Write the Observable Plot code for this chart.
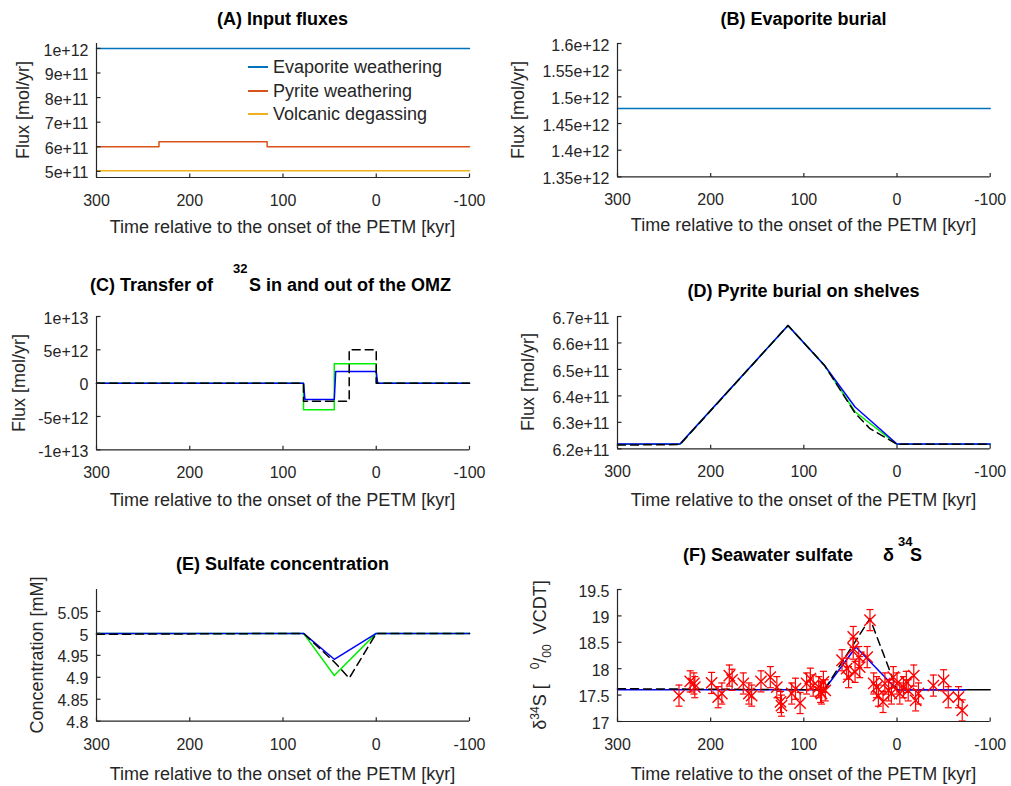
<!DOCTYPE html>
<html><head><meta charset="utf-8">
<script src="https://cdn.jsdelivr.net/npm/d3@7"></script>
<script src="https://cdn.jsdelivr.net/npm/@observablehq/plot@0.6"></script>
<style>
body{margin:0;background:#fff;}
#fig{position:relative;width:1011px;height:786px;overflow:hidden;font-family:"Liberation Sans",Arial,sans-serif;color:#262626;background:#fff;}
.abs{position:absolute;white-space:nowrap;line-height:1;}
.c{transform:translate(-50%,-50%);}
.r{transform:translate(-50%,-50%) rotate(-90deg);}
.title{font-weight:bold;font-size:18px;color:#000;}
.lab{font-size:18px;}
.sup{font-weight:bold;font-size:13px;color:#000;}
.leg{display:flex;align-items:center;font-size:18px;color:#262626;}
.sw{width:20px;height:2px;margin-right:5px;}
</style></head>
<body><div id="fig"></div>
<script>
// ---------- shared axis data ----------
const xTicks = [300, 200, 100, 0, -100];
const xTickLabels = ["300", "200", "100", "0", "-100"];

// ---------- (A) Input fluxes ----------
const seriesA = ["Evaporite weathering", "Pyrite weathering", "Volcanic degassing"];
const evapWeathT = [300, -100];
const evapWeathV = [1e12, 1e12];
const pyrWeathT = [300, 233, 233, 117, 117, -100];
const pyrWeathV = [6e11, 6e11, 6.2e11, 6.2e11, 6e11, 6e11];
const volcT = [300, -100];
const volcV = [5.02e11, 5.02e11];
const yTicksA = [5e11, 6e11, 7e11, 8e11, 9e11, 1e12];
const yLabelsA = ["5e+11", "6e+11", "7e+11", "8e+11", "9e+11", "1e+12"];

// ---------- (B) Evaporite burial ----------
const evapBurT = [300, -100];
const evapBurV = [1.478e12, 1.478e12];
const yTicksB = [1.35e12, 1.4e12, 1.45e12, 1.5e12, 1.55e12, 1.6e12];
const yLabelsB = ["1.35e+12", "1.4e+12", "1.45e+12", "1.5e+12", "1.55e+12", "1.6e+12"];

// ---------- (C) Transfer of 32S ----------
const cGreenT = [300, 78, 78, 45, 45, 0, 0, -100];
const cGreenV = [0, 0, -4e12, -4e12, 2.9e12, 2.9e12, 0, 0];
const cBlueT = [300, 78, 76.5, 45, 43.5, 0, -1.5, -100];
const cBlueV = [0, 0, -2.45e12, -2.45e12, 1.75e12, 1.75e12, 0, 0];
const cBlackT = [300, 78, 78, 29, 29, 0, 0, -100];
const cBlackV = [0, 0, -2.7e12, -2.7e12, 5e12, 5e12, 0, 0];
const yTicksC = [-1e13, -5e12, 0, 5e12, 1e13];
const yLabelsC = ["-1e+13", "-5e+12", "0", "5e+12", "1e+13"];

// ---------- (D) Pyrite burial on shelves ----------
const dGreenT = [300, 233, 117, 78, 45, 0, -100];
const dGreenV = [6.217e11, 6.217e11, 6.666e11, 6.516e11, 6.34e11, 6.217e11, 6.217e11];
const dBlueT = [300, 233, 117, 78, 45, 0, -100];
const dBlueV = [6.218e11, 6.218e11, 6.666e11, 6.516e11, 6.358e11, 6.218e11, 6.218e11];
const dBlackT = [300, 233, 117, 78, 45, 29, 0, -100];
const dBlackV = [6.214e11, 6.216e11, 6.666e11, 6.516e11, 6.335e11, 6.276e11, 6.217e11, 6.217e11];
const yTicksD = [6.2e11, 6.3e11, 6.4e11, 6.5e11, 6.6e11, 6.7e11];
const yLabelsD = ["6.2e+11", "6.3e+11", "6.4e+11", "6.5e+11", "6.6e+11", "6.7e+11"];

// ---------- (E) Sulfate concentration ----------
const eGreenT = [300, 78, 45, 0, -100];
const eGreenV = [5, 5, 4.904, 5, 5];
const eBlueT = [300, 78, 45, 0, -100];
const eBlueV = [5, 5, 4.941, 5, 5];
const eBlackT = [300, 78, 45, 29, 0, -100];
const eBlackV = [4.998, 5, 4.935, 4.898, 5, 5];
const yTicksE = [4.8, 4.85, 4.9, 4.95, 5, 5.05];
const yLabelsE = ["4.8", "4.85", "4.9", "4.95", "5", "5.05"];

// ---------- (F) Seawater sulfate d34S ----------
const fBlueT = [300, 78, 44, 0, -73];
const fBlueV = [17.6, 17.6, 18.41, 17.6, 17.6];
const fBlackT = [300, 78, 29, 0];
const fBlackV = [17.62, 17.6, 18.95, 17.6];
const fRefT = [0, -100];
const fRefV = [17.6, 17.6];
const fDataT = [234,222,218,217,199,192,188,180,177,165,159,156,146,136,129,125,124,113,109,104,97,93,90,84,82,79,77,81,59,54,52,47,47,45,41,40,29,32,25,22,20,15,13,9,6,4,0,-3,-7,-10,-12,-18,-20,-23,-39,-50,-55,-66,-70];
const fDataV = [17.49,17.76,17.72,17.65,17.73,17.46,17.53,17.87,17.79,17.72,17.53,17.49,17.76,17.84,17.65,17.37,17.30,17.53,17.62,17.35,17.72,17.81,17.68,17.65,17.56,17.75,17.59,17.53,18.16,18.0,17.84,18.6,18.38,17.94,18.22,18.03,18.92,18.22,17.72,17.65,17.49,17.37,17.72,17.59,17.53,17.84,17.72,17.53,17.65,17.75,17.59,17.87,17.40,17.53,17.68,17.78,17.46,17.46,17.21];
const fDataErr = 0.2;
const yTicksF = [17, 17.5, 18, 18.5, 19, 19.5];
const yLabelsF = ["17", "17.5", "18", "18.5", "19", "19.5"];

// ---------- helpers ----------
const fig = document.getElementById("fig");
const AX = "#262626";
const rows = (xs, ys) => xs.map((x, i) => ({x, y: ys[i]}));
const tickUp = {draw(ctx) { ctx.moveTo(0, 0); ctx.lineTo(0, -4); }};
const tickRight = {draw(ctx) { ctx.moveTo(0, 0); ctx.lineTo(4, 0); }};
const capSym = {draw(ctx) { ctx.moveTo(-3.5, 0); ctx.lineTo(3.5, 0); }};
const line = (xs, ys, stroke, extra = {}) =>
  Plot.line(rows(xs, ys), {x: "x", y: "y", stroke, strokeWidth: 1.5, ...extra});
const dashed = (xs, ys) => line(xs, ys, "#000", {strokeDasharray: "8,5", strokeWidth: 1.5});

function panel({L, R, T, B, yDomain, yTicks, yLabels, marks}) {
  const mL = 110, mR = 30, mT = 20, mB = 40;
  const plot = Plot.plot({
    width: (R - L) + mL + mR, height: (B - T) + mT + mB,
    marginLeft: mL, marginRight: mR, marginTop: mT, marginBottom: mB,
    style: {fontFamily: '"Liberation Sans", Arial, sans-serif', fontSize: "16px", color: AX, background: "transparent", overflow: "visible"},
    x: {domain: [300, -100]},
    y: {domain: yDomain},
    marks: [
      ...marks,
      Plot.axisX({ticks: xTicks, tickSize: 0, tickPadding: 17, label: null, tickFormat: d => xTickLabels[xTicks.indexOf(d)]}),
      Plot.axisY({ticks: yTicks, tickSize: 0, tickPadding: 8, label: null, dy: 2, tickFormat: d => yLabels[yTicks.indexOf(d)]}),
      Plot.ruleX([xTicks[0]], {stroke: AX, strokeWidth: 1.2}),
      Plot.ruleY([yDomain[0]], {stroke: AX, strokeWidth: 1.2}),
      Plot.dot(xTicks, {x: d => d, frameAnchor: "bottom", symbol: tickUp, stroke: AX, fill: "none", strokeWidth: 1.2}),
      Plot.dot(yTicks, {y: d => d, frameAnchor: "left", symbol: tickRight, stroke: AX, fill: "none", strokeWidth: 1.2})
    ]
  });
  plot.style.position = "absolute";
  plot.style.left = (L - mL) + "px";
  plot.style.top = (T - mT) + "px";
  fig.appendChild(plot);
}

function html(cls, x, y, content) {
  const d = document.createElement("div");
  d.className = "abs " + cls;
  d.style.left = x + "px";
  d.style.top = y + "px";
  d.innerHTML = content;
  fig.appendChild(d);
  return d;
}

const XLAB = "Time relative to the onset of the PETM [kyr]";

// ---------- Panel A ----------
panel({L: 96, R: 469, T: 43.3, B: 177.3, yDomain: [4.75e11, 1.02e12], yTicks: yTicksA, yLabels: yLabelsA,
  marks: [
    line(evapWeathT, evapWeathV, "#0072BD"),
    line(pyrWeathT, pyrWeathV, "#D95319"),
    line(volcT, volcV, "#EDB120")
  ]});
html("title c", 282.5, 18.5, "(A) Input fluxes");
html("lab c", 282.5, 226.5, XLAB);
html("lab r", 23, 110, "Flux [mol/yr]");
const legColors = ["#0072BD", "#D95319", "#EDB120"];
const legY = [67, 90.5, 114];
seriesA.forEach((s, i) => {
  const d = html("leg", 248, legY[i] - 10, `<span class="sw" style="background:${legColors[i]}"></span><span>${s}</span>`);
  d.style.height = "20px";
});

// ---------- Panel B ----------
panel({L: 617.3, R: 990, T: 43.3, B: 176.7, yDomain: [1.35e12, 1.6e12], yTicks: yTicksB, yLabels: yLabelsB,
  marks: [line(evapBurT, evapBurV, "#0072BD")]});
html("title c", 803.6, 18.5, "(B) Evaporite burial");
html("lab c", 803.6, 225, XLAB);
html("lab r", 518, 110, "Flux [mol/yr]");

// ---------- Panel C ----------
panel({L: 96, R: 469, T: 316, B: 449.3, yDomain: [-1e13, 1e13], yTicks: yTicksC, yLabels: yLabelsC,
  marks: [
    line(cGreenT, cGreenV, "#00ee00"),
    line(cBlueT, cBlueV, "#0000ff"),
    dashed(cBlackT, cBlackV)
  ]});
html("title", 90, 276, "(C) Transfer of");
html("sup", 233, 262, "32");
html("title", 249, 276, "S in and out of the OMZ");
html("lab c", 282.5, 500, XLAB);
html("lab r", 19, 383, "Flux [mol/yr]");

// ---------- Panel D ----------
panel({L: 617.3, R: 990, T: 316, B: 448.3, yDomain: [6.2e11, 6.7e11], yTicks: yTicksD, yLabels: yLabelsD,
  marks: [
    line(dGreenT, dGreenV, "#00ee00"),
    line(dBlueT, dBlueV, "#0000ff"),
    dashed(dBlackT, dBlackV)
  ]});
html("title c", 803.6, 291, "(D) Pyrite burial on shelves");
html("lab c", 803.6, 500, XLAB);
html("lab r", 528, 382, "Flux [mol/yr]");

// ---------- Panel E ----------
panel({L: 96, R: 469, T: 589.3, B: 721, yDomain: [4.8, 5.1], yTicks: yTicksE, yLabels: yLabelsE,
  marks: [
    line(eGreenT, eGreenV, "#00ee00"),
    line(eBlueT, eBlueV, "#0000ff"),
    dashed(eBlackT, eBlackV)
  ]});
html("title c", 282.5, 563.5, "(E) Sulfate concentration");
html("lab c", 282.5, 774, XLAB);
html("lab r", 37, 655, "Concentration [mM]");

// ---------- Panel F ----------
const fData = rows(fDataT, fDataV);
panel({L: 617.3, R: 990, T: 589, B: 721, yDomain: [17, 19.5], yTicks: yTicksF, yLabels: yLabelsF,
  marks: [
    line(fRefT, fRefV, "#000"),
    line(fBlueT, fBlueV, "#0000ff"),
    dashed(fBlackT, fBlackV),
    Plot.ruleX(fData, {x: "x", y1: d => d.y - fDataErr, y2: d => d.y + fDataErr, stroke: "#ff0000", strokeWidth: 1.2}),
    Plot.dot(fData, {x: "x", y: d => d.y - fDataErr, symbol: capSym, stroke: "#ff0000", fill: "none", strokeWidth: 1.2}),
    Plot.dot(fData, {x: "x", y: d => d.y + fDataErr, symbol: capSym, stroke: "#ff0000", fill: "none", strokeWidth: 1.2}),
    Plot.dot(fData, {x: "x", y: "y", symbol: "times", r: 5.2, stroke: "#ff0000", strokeWidth: 1.4})
  ]});
html("title", 683, 546, "(F) Seawater sulfate");
html("title", 883, 546, "δ");
html("sup", 898, 535, "34");
html("title", 910, 546, "S");
html("lab c", 803.6, 774, XLAB);
html("lab r", 541, 655,
  'δ<sup style="font-size:12px">34</sup>S [&nbsp;&nbsp;&nbsp;<sup style="font-size:12px">0</sup>/<sub style="font-size:12px">00</sub>&nbsp;&nbsp;VCDT]');
</script>
</body></html>
